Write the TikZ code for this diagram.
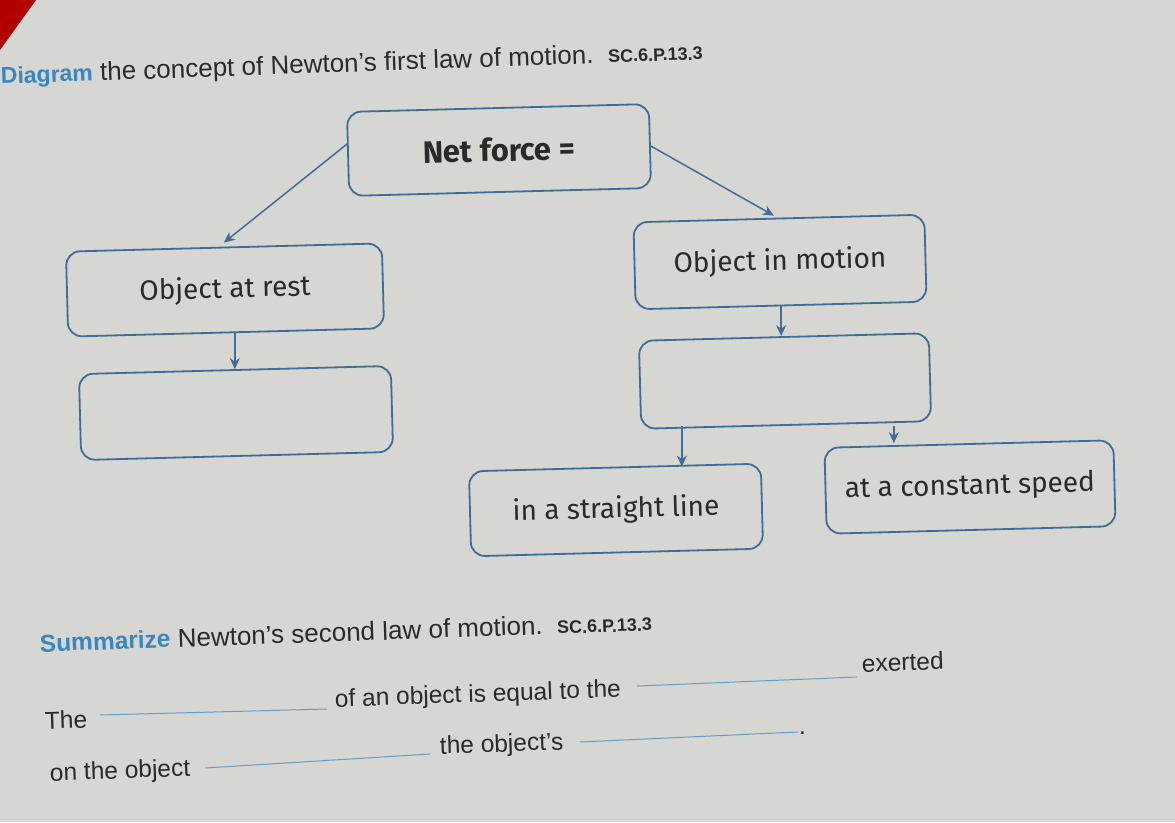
\documentclass[tikz,border=0pt]{standalone}
\usepackage{fontspec}
\setmainfont{Liberation Sans}
\newfontfamily\handfont{Fira Sans}
\usetikzlibrary{arrows.meta,calc}
\definecolor{paper}{HTML}{D6D6D2}
\definecolor{boxblue}{HTML}{3F6C98}
\definecolor{headblue}{HTML}{3A86BE}
\definecolor{ink}{HTML}{2A2A2A}
\tikzset{
  cbox/.style={draw=boxblue, line width=1.8pt, rounded corners=14pt, fill=paper,
    rotate=1.5, align=center, font=\handfont\fontsize{28}{32}\selectfont, text=ink},
  conn/.style={draw=boxblue, line width=1.5pt, -{Stealth[length=11pt,width=10pt]}},
  ptext/.style={anchor=base west, inner sep=0pt, text=ink, font=\fontsize{26}{30}\selectfont},
  btext/.style={anchor=base west, inner sep=0pt, text=ink, rotate=2, font=\fontsize{24.5}{28}\selectfont},
  blank/.style={draw=headblue!80, line width=1pt}
}
\begin{document}
\begin{tikzpicture}[x=1pt,y=-1pt]
\useasboundingbox (0,0) rectangle (1175,822);
\fill[paper] (0,0) rectangle (1175,822);
\fill[red!70!black] (0,0) -- (36,0) -- (0,50) -- cycle;
% title
\node[ptext, rotate=2] (title) at (1,84)
  {\textcolor{headblue}{\textbf{\fontsize{23}{27}\selectfont Diagram}} the concept of Newton's first law of motion.\ \ {\bfseries\fontsize{18}{21}\selectfont SC.6.P.13.3}};
% concept map
\node[cbox, minimum width=302pt, minimum height=84pt, font=\handfont\bfseries\fontsize{31}{36}\selectfont] (net) at (499,150) {Net force =};
\node[cbox, minimum width=316pt, minimum height=85pt] (rest) at (225,290) {Object at rest};
\node[cbox, minimum width=312pt, minimum height=86pt] (eleft) at (236,413) {};
\node[cbox, minimum width=291pt, minimum height=87pt] (motion) at (780,262) {Object in motion};
\node[cbox, minimum width=290pt, minimum height=88pt] (eright) at (785,381) {};
\node[cbox, minimum width=292pt, minimum height=85pt] (sline) at (616,510) {in a straight line};
\node[cbox, minimum width=289pt, minimum height=86pt] (speed) at (970,487) {at a constant speed};
\draw[conn] ([yshift=10pt]net.west) -- ([shift={(0,-4)}]rest.north);
\draw[conn] (net.east) -- ([shift={(-5,-2)}]motion.north);
\draw[conn] (eleft.north |- rest.south) -- (eleft.north);
\draw[conn] (motion.south) -- (eright.north -| motion.south);
\draw[conn] ([xshift=67pt]sline.north |- eright.south) -- ([xshift=67pt]sline.north);
\draw[conn] ([xshift=-75pt]speed.north |- eright.south) -- ([xshift=-75pt]speed.north);
% second part
\node[ptext, rotate=2] (summ) at (40,652)
  {\textcolor{headblue}{\bfseries\fontsize{24.5}{28}\selectfont Summarize} Newton's second law of motion.\ \ {\bfseries\fontsize{18}{21}\selectfont SC.6.P.13.3}};
\node[btext] (the) at (45,729) {The};
\coordinate (b1s) at (100,715); \coordinate (b1e) at (327,709);
\draw[blank] (b1s) -- (b1e);
\node[btext] (ofan) at (335,707) {of an object is equal to the};
\coordinate (b2s) at (637,686); \coordinate (b2e) at (857,677);
\draw[blank] (b2s) -- (b2e);
\node[btext] (exerted) at (862,672) {exerted};
\node[btext] (onthe) at (50,781) {on the object};
\coordinate (b3s) at (205,768); \coordinate (b3e) at (430,754);
\draw[blank] (b3s) -- (b3e);
\node[btext] (objs) at (440,754) {the object's};
\coordinate (b4s) at (580,742); \coordinate (b4e) at (798,732);
\draw[blank] (b4s) -- (b4e);
\node[btext, rotate=-2] (dot) at (799,734) {.};
\end{tikzpicture}
\end{document}
